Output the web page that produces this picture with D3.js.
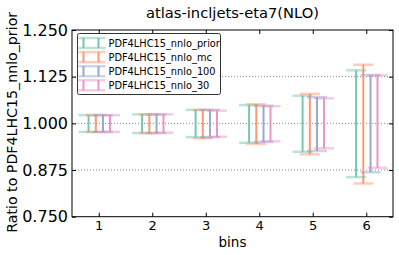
<!DOCTYPE html>
<html>
<head>
<meta charset="utf-8">
<script src="https://cdn.jsdelivr.net/npm/d3@7"></script>
<style>
	body { margin: 0; background: #fff; }
	text { font-family: "DejaVu Sans", sans-serif; fill: #000; }
</style>
</head>
<body>
<div id="chart"></div>
<script>
const bins = [1, 2, 3, 4, 5, 6];
const seriesNames = ["PDF4LHC15_nnlo_prior", "PDF4LHC15_nnlo_mc", "PDF4LHC15_nnlo_100", "PDF4LHC15_nnlo_30"];
const colors = ["#66c2a5", "#fc8d62", "#8da0cb", "#e78ac3"];
const yTicks = [0.75, 0.875, 1.0, 1.125, 1.25];

// upper / lower edge of each band
const priorHi = [1.022, 1.024, 1.036, 1.049, 1.074, 1.142];
const priorLo = [0.977, 0.974, 0.963, 0.948, 0.924, 0.856];
const mcHi = [1.022, 1.024, 1.036, 1.051, 1.079, 1.157];
const mcLo = [0.977, 0.974, 0.960, 0.945, 0.917, 0.839];
const n100Hi = [1.022, 1.024, 1.036, 1.047, 1.070, 1.129];
const n100Lo = [0.977, 0.974, 0.963, 0.950, 0.926, 0.869];
const n30Hi = [1.022, 1.024, 1.034, 1.046, 1.067, 1.129];
const n30Lo = [0.977, 0.975, 0.964, 0.952, 0.933, 0.881];

const offsets = [-0.19, -0.055, 0.08, 0.21];

const series = seriesNames.map((name, i) => ({
	name: name,
	color: colors[i],
	offset: offsets[i],
	hi: [priorHi, mcHi, n100Hi, n30Hi][i],
	lo: [priorLo, mcLo, n100Lo, n30Lo][i]
}));

const W = 399, H = 255;
const margin = {left: 72, right: 6, top: 30, bottom: 38.3};
const capHalf = 10;

const svg = d3.select("#chart").append("svg")
	.attr("width", W)
	.attr("height", H);

const x = d3.scaleLinear().domain([0.5, 6.5]).range([margin.left, W - margin.right]);
const y = d3.scaleLinear().domain([0.75, 1.25]).range([H - margin.bottom, margin.top]);

// dotted grid
svg.append("g")
	.selectAll("line")
	.data(yTicks.slice(1, -1))
	.join("line")
	.attr("x1", x.range()[0])
	.attr("x2", x.range()[1])
	.attr("y1", d => y(d))
	.attr("y2", d => y(d))
	.attr("stroke", "#888")
	.attr("stroke-width", 1)
	.attr("stroke-dasharray", "1,2");

// error bars
const groups = svg.append("g")
	.selectAll("g")
	.data(series)
	.join("g")
	.attr("stroke", d => d.color);

groups.each(function(s) {
	const g = d3.select(this);
	const pts = bins.map((b, i) => ({cx: x(b + s.offset), hi: y(s.hi[i]), lo: y(s.lo[i])}));
	g.selectAll("line.cap-hi")
		.data(pts)
		.join("line")
		.attr("x1", d => d.cx - capHalf)
		.attr("x2", d => d.cx + capHalf)
		.attr("y1", d => d.hi)
		.attr("y2", d => d.hi)
		.attr("stroke-width", 2.5)
		.attr("stroke-opacity", 0.45);
	g.selectAll("line.cap-lo")
		.data(pts)
		.join("line")
		.attr("x1", d => d.cx - capHalf)
		.attr("x2", d => d.cx + capHalf)
		.attr("y1", d => d.lo)
		.attr("y2", d => d.lo)
		.attr("stroke-width", 2.5)
		.attr("stroke-opacity", 0.45);
	g.selectAll("line.bar")
		.data(pts)
		.join("line")
		.attr("x1", d => d.cx)
		.attr("x2", d => d.cx)
		.attr("y1", d => d.hi)
		.attr("y2", d => d.lo)
		.attr("stroke-width", 2)
		.attr("stroke-opacity", 0.9);
});

// axes, ticks pointing inward on every side
const tickLen = 4;
const yAxis = svg.append("g")
	.attr("transform", `translate(${x.range()[0]},0)`)
	.call(d3.axisLeft(y).tickValues(yTicks).tickFormat(d3.format(".3f")).tickSizeInner(-tickLen).tickSizeOuter(0).tickPadding(4));
yAxis.selectAll("text").style("font-size", "16px");

const yAxisR = svg.append("g")
	.attr("transform", `translate(${x.range()[1]},0)`)
	.call(d3.axisRight(y).tickValues(yTicks).tickSizeInner(-tickLen).tickSizeOuter(0).tickFormat(""));

const xAxis = svg.append("g")
	.attr("transform", `translate(0,${y.range()[0]})`)
	.call(d3.axisBottom(x).tickValues(bins).tickFormat(d3.format("d")).tickSizeInner(-tickLen).tickSizeOuter(0).tickPadding(4));
xAxis.selectAll("text").style("font-size", "13px");

const xAxisT = svg.append("g")
	.attr("transform", `translate(0,${y.range()[1]})`)
	.call(d3.axisTop(x).tickValues(bins).tickSizeInner(-tickLen).tickSizeOuter(0).tickFormat(""));

[yAxis, yAxisR, xAxis, xAxisT].forEach(a => {
	a.select(".domain").remove();
	a.selectAll("line").attr("stroke", "#000");
	a.selectAll("text").style("font-family", "DejaVu Sans, sans-serif").attr("fill", "#000");
});

svg.append("rect")
	.attr("x", x.range()[0])
	.attr("y", y.range()[1])
	.attr("width", x.range()[1] - x.range()[0])
	.attr("height", y.range()[0] - y.range()[1])
	.attr("fill", "none")
	.attr("stroke", "#000")
	.attr("stroke-width", 1);

// titles
svg.append("text")
	.attr("x", (x.range()[0] + x.range()[1]) / 2)
	.attr("y", 18)
	.attr("text-anchor", "middle")
	.style("font-size", "14.7px")
	.text("atlas-incljets-eta7(NLO)");

svg.append("text")
	.attr("x", (x.range()[0] + x.range()[1]) / 2)
	.attr("y", 247)
	.attr("text-anchor", "middle")
	.style("font-size", "13.5px")
	.text("bins");

svg.append("text")
	.attr("transform", `translate(17,${(y.range()[0] + y.range()[1]) / 2 - 1}) rotate(-90)`)
	.attr("text-anchor", "middle")
	.style("font-size", "14.2px")
	.text("Ratio to PDF4LHC15_nnlo_prior");

// legend
const legend = svg.append("g").attr("transform", "translate(77.5,33.5)");
legend.append("rect")
	.attr("width", 143)
	.attr("height", 61)
	.attr("rx", 2)
	.attr("fill", "#fff")
	.attr("stroke", "#333")
	.attr("stroke-width", 1);

const rowH = 14.1;
const rows = legend.selectAll("g.row")
	.data(series)
	.join("g")
	.attr("transform", (d, i) => `translate(0,${9.5 + i * rowH})`);

rows.each(function(s) {
	const r = d3.select(this);
	[-5, 5].forEach(dy => {
		r.append("line")
			.attr("x1", 1).attr("x2", 28)
			.attr("y1", dy).attr("y2", dy)
			.attr("stroke", s.color)
			.attr("stroke-width", 2.5)
			.attr("stroke-opacity", 0.45);
	});
	[6, 21].forEach(dx => {
		r.append("line")
			.attr("x1", dx).attr("x2", dx)
			.attr("y1", -5).attr("y2", 5)
			.attr("stroke", s.color)
			.attr("stroke-width", 2)
			.attr("stroke-opacity", 0.9);
	});
	r.append("text")
		.attr("x", 31)
		.attr("y", 3.5)
		.style("font-size", "9.8px")
		.text(s.name);
});
</script>
</body>
</html>
